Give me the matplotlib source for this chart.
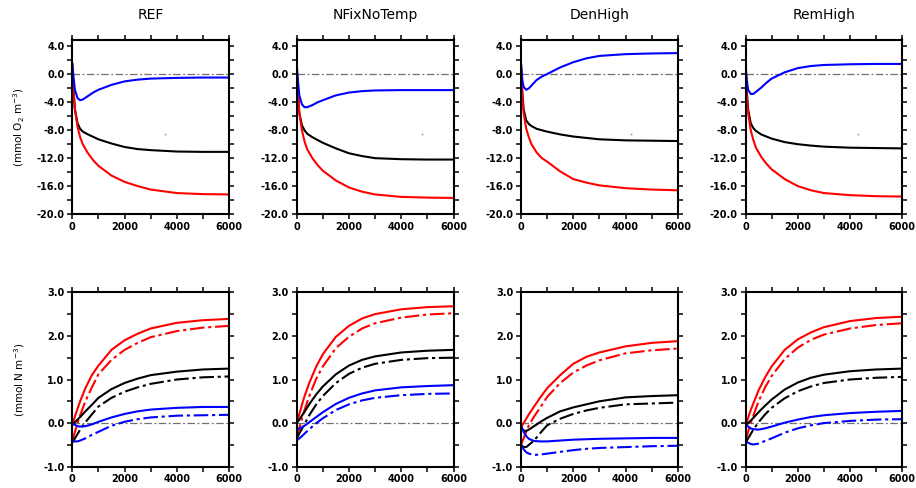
import numpy as np
import matplotlib
matplotlib.use("Agg")
import matplotlib.pyplot as plt
from matplotlib.ticker import MultipleLocator, FormatStrFormatter

plt.rcParams['axes.unicode_minus'] = False
plt.rcParams['font.family'] = 'DejaVu Sans'

titles = ["REF", "NFixNoTemp", "DenHigh", "RemHigh"]

# top row: oxygen anomaly (mmol O2 m-3)
t_o2 = [0, 50, 100, 200, 300, 400, 600, 800, 1000, 1500, 2000, 2500, 3000, 4000, 5000, 6000]

o2_blue = [
    [1.5, -0.5, -2.2, -3.4, -3.7, -3.6, -3.1, -2.6, -2.2, -1.5, -1.0, -0.75, -0.6, -0.5, -0.45, -0.45],
    [1.5, -1.0, -3.0, -4.3, -4.7, -4.7, -4.4, -4.0, -3.7, -3.0, -2.6, -2.4, -2.3, -2.25, -2.25, -2.25],
    [1.5, -0.8, -1.8, -2.2, -2.0, -1.6, -0.8, -0.3, 0.05, 1.0, 1.75, 2.3, 2.65, 2.9, 3.0, 3.05],
    [1.5, -0.8, -2.2, -2.8, -2.8, -2.5, -1.9, -1.2, -0.6, 0.3, 0.9, 1.2, 1.35, 1.45, 1.5, 1.5],
]
o2_black = [
    [1.5, -2.5, -5.0, -7.0, -7.8, -8.2, -8.6, -8.95, -9.3, -9.9, -10.4, -10.7, -10.85, -11.05, -11.1, -11.1],
    [1.3, -3.0, -5.5, -7.3, -8.0, -8.5, -9.0, -9.4, -9.8, -10.6, -11.3, -11.7, -12.0, -12.15, -12.2, -12.2],
    [1.5, -2.5, -5.0, -6.6, -7.1, -7.4, -7.8, -8.0, -8.2, -8.6, -8.9, -9.1, -9.3, -9.45, -9.5, -9.55],
    [1.4, -2.5, -5.0, -7.0, -7.7, -8.1, -8.6, -8.9, -9.2, -9.7, -10.0, -10.2, -10.35, -10.5, -10.55, -10.6],
]
o2_red = [
    [1.2, -2.5, -5.0, -7.5, -9.0, -10.0, -11.3, -12.3, -13.1, -14.5, -15.4, -16.0, -16.5, -17.0, -17.15, -17.2],
    [1.0, -3.0, -5.5, -8.0, -9.6, -10.7, -12.0, -13.0, -13.8, -15.2, -16.2, -16.8, -17.2, -17.55, -17.65, -17.7],
    [1.2, -3.0, -5.5, -7.8, -9.0, -10.0, -11.2, -12.0, -12.5, -13.9, -15.0, -15.5, -15.9, -16.3, -16.5, -16.6],
    [1.1, -3.0, -5.5, -8.0, -9.4, -10.5, -11.8, -12.8, -13.6, -15.0, -16.0, -16.6, -17.0, -17.3, -17.45, -17.5],
]
# small grey dots inside the top panels
dot_x = [3550, 4800, 4200, 4300]
dot_y = [-8.5, -8.5, -8.5, -8.5]

# bottom row: nitrogen anomaly (mmol N m-3), solid and dash-dot pairs
t_n = [0, 100, 200, 300, 500, 750, 1000, 1500, 2000, 2500, 3000, 4000, 5000, 6000]

n_red = [
    [-0.05, 0.15, 0.33, 0.5, 0.8, 1.1, 1.32, 1.68, 1.9, 2.05, 2.17, 2.3, 2.36, 2.39],
    [0.0, 0.2, 0.42, 0.62, 0.95, 1.3, 1.58, 1.98, 2.23, 2.4, 2.5, 2.61, 2.66, 2.68],
    [-0.1, 0.0, 0.1, 0.2, 0.38, 0.6, 0.8, 1.1, 1.36, 1.52, 1.62, 1.76, 1.84, 1.88],
    [-0.05, 0.12, 0.3, 0.45, 0.75, 1.05, 1.3, 1.68, 1.92, 2.08, 2.2, 2.34, 2.41, 2.44],
]
n_red_dd = [
    [-0.4, -0.2, 0.0, 0.18, 0.5, 0.82, 1.12, 1.45, 1.68, 1.84, 1.97, 2.11, 2.19, 2.23],
    [-0.35, -0.12, 0.1, 0.3, 0.65, 1.02, 1.3, 1.72, 1.98, 2.17, 2.29, 2.42, 2.49, 2.52],
    [-0.5, -0.35, -0.2, -0.05, 0.15, 0.37, 0.6, 0.92, 1.16, 1.32, 1.44, 1.6, 1.67, 1.71],
    [-0.4, -0.2, 0.0, 0.17, 0.5, 0.82, 1.08, 1.47, 1.73, 1.91, 2.03, 2.17, 2.25, 2.29],
]
n_black = [
    [-0.05, 0.02, 0.08, 0.14, 0.27, 0.42, 0.58, 0.78, 0.92, 1.02, 1.1, 1.18, 1.23, 1.25],
    [0.0, 0.08, 0.17, 0.26, 0.45, 0.66, 0.84, 1.12, 1.32, 1.45, 1.53, 1.62, 1.66, 1.68],
    [-0.1, -0.17, -0.18, -0.15, -0.07, 0.03, 0.12, 0.27, 0.36, 0.43, 0.5, 0.59, 0.62, 0.64],
    [-0.05, 0.0, 0.06, 0.12, 0.25, 0.4, 0.54, 0.77, 0.93, 1.04, 1.11, 1.19, 1.23, 1.25],
]
n_black_dd = [
    [-0.45, -0.35, -0.25, -0.15, 0.02, 0.2, 0.38, 0.58, 0.72, 0.82, 0.9, 1.0, 1.05, 1.07],
    [-0.35, -0.24, -0.13, -0.02, 0.2, 0.43, 0.62, 0.92, 1.13, 1.27, 1.36, 1.45, 1.49, 1.5],
    [-0.5, -0.55, -0.55, -0.5, -0.4, -0.22, -0.05, 0.1, 0.21, 0.29, 0.35, 0.43, 0.45, 0.47],
    [-0.45, -0.35, -0.25, -0.15, 0.02, 0.2, 0.35, 0.57, 0.73, 0.84, 0.92, 1.0, 1.04, 1.06],
]
n_blue = [
    [0.0, -0.04, -0.07, -0.08, -0.07, -0.03, 0.03, 0.13, 0.21, 0.27, 0.31, 0.35, 0.37, 0.37],
    [-0.15, -0.12, -0.1, -0.06, 0.03, 0.14, 0.25, 0.44, 0.58, 0.68, 0.75, 0.82, 0.85, 0.87],
    [-0.05, -0.2, -0.3, -0.36, -0.41, -0.42, -0.42, -0.4, -0.38, -0.37, -0.36, -0.35, -0.34, -0.34],
    [0.0, -0.08, -0.12, -0.14, -0.15, -0.12, -0.08, 0.01, 0.08, 0.14, 0.18, 0.23, 0.26, 0.28],
]
n_blue_dd = [
    [-0.4, -0.42, -0.42, -0.4, -0.35, -0.27, -0.2, -0.06, 0.03, 0.09, 0.13, 0.17, 0.18, 0.19],
    [-0.4, -0.35, -0.3, -0.24, -0.13, 0.0, 0.11, 0.3, 0.43, 0.52, 0.58, 0.64, 0.67, 0.68],
    [-0.5, -0.6, -0.67, -0.7, -0.73, -0.72, -0.7, -0.66, -0.62, -0.59, -0.57, -0.55, -0.53, -0.52],
    [-0.4, -0.45, -0.48, -0.49, -0.47, -0.41, -0.35, -0.22, -0.12, -0.05, 0.0, 0.05, 0.08, 0.09],
]

W, H = 916, 488
fig = plt.figure(figsize=(W / 100, H / 100), dpi=100)

lefts = [72.3, 296.7, 521.0, 745.5]
aw = 156.8
dd = (0, (7, 1.8, 1.5, 1.8))
ref_dd = (0, (6, 2, 1.5, 2))


def style(ax):
    for s in ax.spines.values():
        s.set_linewidth(1.5)
    ax.tick_params(which='both', direction='out', top=True, right=True,
                   length=3.6, width=1.1, labelsize=7, pad=2)
    for lab in ax.get_xticklabels() + ax.get_yticklabels():
        lab.set_fontweight('bold')
    ax.xaxis.set_major_locator(MultipleLocator(2000))
    ax.xaxis.set_minor_locator(MultipleLocator(1000))
    ax.set_xlim(0, 6000)


for i in range(4):
    # top row
    ax = fig.add_axes([lefts[i] / W, 1 - 214.0 / H, aw / W, (214.0 - 39.5) / H])
    ax.axhline(0, color='#707070', lw=0.9, ls=ref_dd)
    ax.plot(t_o2, o2_black[i], color='black', lw=1.5)
    ax.plot(t_o2, o2_red[i], color='red', lw=1.5)
    ax.plot(t_o2, o2_blue[i], color='blue', lw=1.5)
    ax.plot(dot_x[i], dot_y[i], 's', color='#999999', ms=1.2, mew=0)
    ax.set_ylim(-20, 5)
    ax.yaxis.set_major_locator(MultipleLocator(4))
    ax.yaxis.set_minor_locator(MultipleLocator(2))
    ax.yaxis.set_major_formatter(FormatStrFormatter('%.1f'))
    ax.set_title(titles[i], fontsize=10, pad=15)
    style(ax)
    if i == 0:
        ax.set_ylabel("(mmol O$_2$ m$^{-3}$)", fontsize=7.5)
        ax.yaxis.set_label_coords(-0.29, 0.5)

    # bottom row
    ax = fig.add_axes([lefts[i] / W, 1 - 466.7 / H, aw / W, (466.7 - 292.3) / H])
    ax.axhline(0, color='#707070', lw=0.9, ls=ref_dd)
    ax.plot(t_n, n_red[i], color='red', lw=1.5)
    ax.plot(t_n, n_red_dd[i], color='red', lw=1.5, ls=dd)
    ax.plot(t_n, n_black[i], color='black', lw=1.5)
    ax.plot(t_n, n_black_dd[i], color='black', lw=1.5, ls=dd)
    ax.plot(t_n, n_blue[i], color='blue', lw=1.5)
    ax.plot(t_n, n_blue_dd[i], color='blue', lw=1.5, ls=dd)
    ax.set_ylim(-1, 3)
    ax.yaxis.set_major_locator(MultipleLocator(1))
    ax.yaxis.set_minor_locator(MultipleLocator(0.5))
    ax.yaxis.set_major_formatter(FormatStrFormatter('%.1f'))
    style(ax)
    if i == 0:
        ax.set_ylabel("(mmol N m$^{-3}$)", fontsize=7.5)
        ax.yaxis.set_label_coords(-0.29, 0.5)

fig.savefig("out.png", dpi=100)
